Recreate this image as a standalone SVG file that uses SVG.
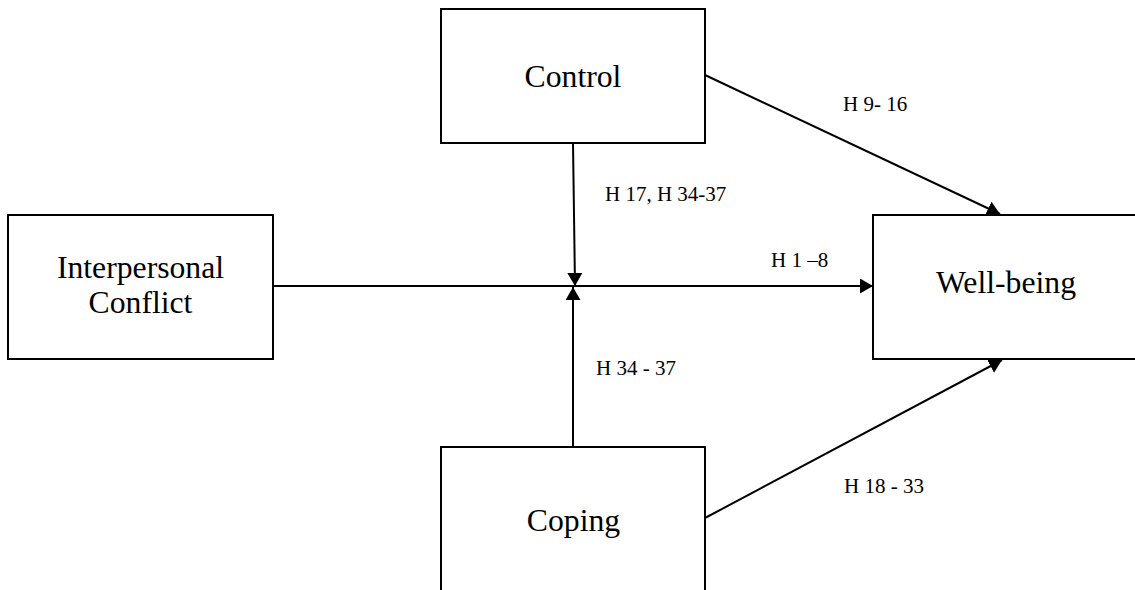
<svg xmlns="http://www.w3.org/2000/svg" width="1135" height="590" viewBox="0 0 1135 590">
  <style>
    .box { fill: #ffffff; stroke: #000000; stroke-width: 2; }
    .big { font-family: "Liberation Serif", "Times New Roman", serif; font-size: 31.7px; fill: #000000; text-anchor: middle; }
    .lbl { font-family: "Liberation Serif", "Times New Roman", serif; font-size: 21px; fill: #000000; }
    .edge { fill: none; stroke: #000000; stroke-width: 2; marker-end: url(#arrow); }
    .plain { fill: none; stroke: #000000; stroke-width: 2; }
  </style>
  <defs>
    <marker id="arrow" markerUnits="userSpaceOnUse" markerWidth="14" markerHeight="16" refX="13" refY="7.5" orient="auto">
      <path d="M0,0 L13,7.5 L0,15 Z" fill="#000000"/>
    </marker>
  </defs>
  <rect width="1135" height="590" fill="#ffffff"/>

  <g id="node-control">
    <rect class="box" x="441" y="9" width="264" height="134"/>
    <text class="big" x="573" y="87">Control</text>
  </g>
  <g id="node-conflict">
    <rect class="box" x="8" y="215" width="265" height="144"/>
    <text class="big" x="140.5" y="278">Interpersonal</text>
    <text class="big" x="140.5" y="313">Conflict</text>
  </g>
  <g id="node-wellbeing">
    <rect class="box" x="873" y="215" width="280" height="144"/>
    <text class="big" x="1006" y="293">Well-being</text>
  </g>
  <g id="node-coping">
    <rect class="box" x="441" y="447" width="264" height="160"/>
    <text class="big" x="573.5" y="531">Coping</text>
  </g>

  <g id="connectors">
    <line class="edge" x1="273" y1="286" x2="873" y2="286"/>
    <line class="edge" x1="573" y1="143" x2="575" y2="286"/>
    <line class="edge" x1="573" y1="447" x2="573" y2="287"/>
    <line class="edge" x1="705" y1="75" x2="1000" y2="214"/>
    <line class="edge" x1="705" y1="518" x2="1002" y2="360"/>
  </g>

  <g id="labels">
    <text class="lbl" x="605" y="201">H 17, H 34-37</text>
    <text class="lbl" x="843" y="111">H 9- 16</text>
    <text class="lbl" x="771" y="267">H 1 –8</text>
    <text class="lbl" x="596" y="375">H 34 - 37</text>
    <text class="lbl" x="844" y="493">H 18 - 33</text>
  </g>
</svg>
